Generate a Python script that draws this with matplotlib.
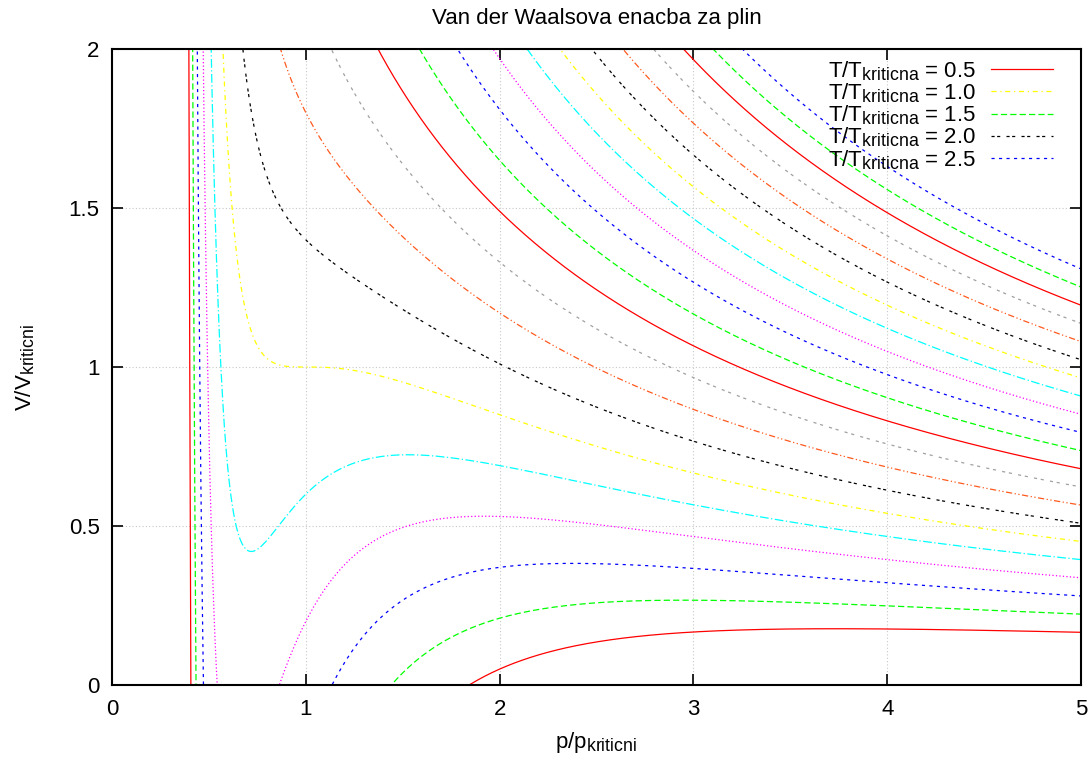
import numpy as np
import matplotlib
matplotlib.use("Agg")
import matplotlib.pyplot as plt
try:
    import matplotlib._mathtext as _mt
    _mt.SHRINK_FACTOR = 0.8
except Exception:
    pass

plt.rcParams['font.family'] = ['Liberation Sans', 'DejaVu Sans']
plt.rcParams['mathtext.fontset'] = 'custom'
plt.rcParams['mathtext.rm'] = 'Liberation Sans'
plt.rcParams['mathtext.it'] = 'Liberation Sans'

# Reduced temperatures T/T_kriticna of the plotted isotherms
temps = [0.5, 0.6, 0.7, 0.8, 0.9, 1.0, 1.1, 1.2, 1.3, 1.4, 1.5,
         1.6, 1.7, 1.8, 1.9, 2.0, 2.1, 2.2, 2.3, 2.4, 2.5]
legend_temps = [0.5, 1.0, 1.5, 2.0, 2.5]
x_ticks = [0, 1, 2, 3, 4, 5]
y_ticks = [0, 0.5, 1, 1.5, 2]
y_tick_labels = ['0', '0.5', '1', '1.5', '2']
title = "Van der Waalsova enacba za plin"

colors = ['#ff0000', '#00ff00', '#0000ff', '#ff00ff', '#00ffff',
          '#ffff00', '#000000', '#ff5a1e', '#a0a0a0']
dashes = [None, (5, 2.5), (2.5, 3.5), (1, 1.8), (7, 2, 1, 2),
          (4, 3, 1, 3), (2.5, 2, 2.5, 5), (5, 2, 1, 2, 1, 2), (2.5, 3, 2.5, 5)]

FS = 16
fig = plt.figure(figsize=(10.92, 7.6), dpi=100)
ax = fig.add_axes([112/1092, 1-685/760, 969/1092, 636/760])

# reduced volume (horizontal axis), fine near the 1/3 asymptote
V = np.concatenate([np.linspace(1/3 + 1e-4, 0.7, 6000), np.linspace(0.7, 5.0, 4000)])

for i, T in enumerate(temps):
    p = 8*T/(3*V - 1) - 3/V**2
    p = np.where(p > 3, np.nan, p)
    c = colors[i % 9]
    d = dashes[i % 9]
    label = None
    if any(abs(T - t) < 1e-9 for t in legend_temps):
        label = r'T/T$_{\mathregular{kriticna}}$ = %.1f' % T
    line, = ax.plot(V, p, color=c, lw=0.9, label=label)
    if d is not None:
        line.set_dashes(d)

ax.set_xlim(0, 5)
ax.set_ylim(0, 2)
ax.set_xticks(x_ticks)
ax.set_xticklabels([str(v) for v in x_ticks])
ax.set_yticks(y_ticks)
ax.set_yticklabels(y_tick_labels)
ax.grid(True, color='#c8c8c8', linestyle=(0, (1, 2)), lw=0.8)
ax.tick_params(direction='in', length=8, width=1.2, top=True, right=True,
               labelsize=FS)
ax.tick_params(axis='x', pad=10)
ax.tick_params(axis='y', pad=9)
for s in ax.spines.values():
    s.set_linewidth(1.5)

ax.set_title(title, fontsize=FS, pad=18)
ax.set_xlabel(r'p/p$_{\mathregular{kriticni}}$', fontsize=FS, labelpad=7)
ax.set_ylabel(r'V/V$_{\mathregular{kriticni}}$', fontsize=FS, labelpad=23)

leg = ax.legend(loc='upper right', frameon=False, markerfirst=False,
                fontsize=FS, labelspacing=-0.06, handlelength=2.8,
                borderaxespad=0, borderpad=0, handletextpad=0.65,
                bbox_to_anchor=(1 - 28/969, 1 - 10/636))

fig.savefig('out.png', dpi=100)
